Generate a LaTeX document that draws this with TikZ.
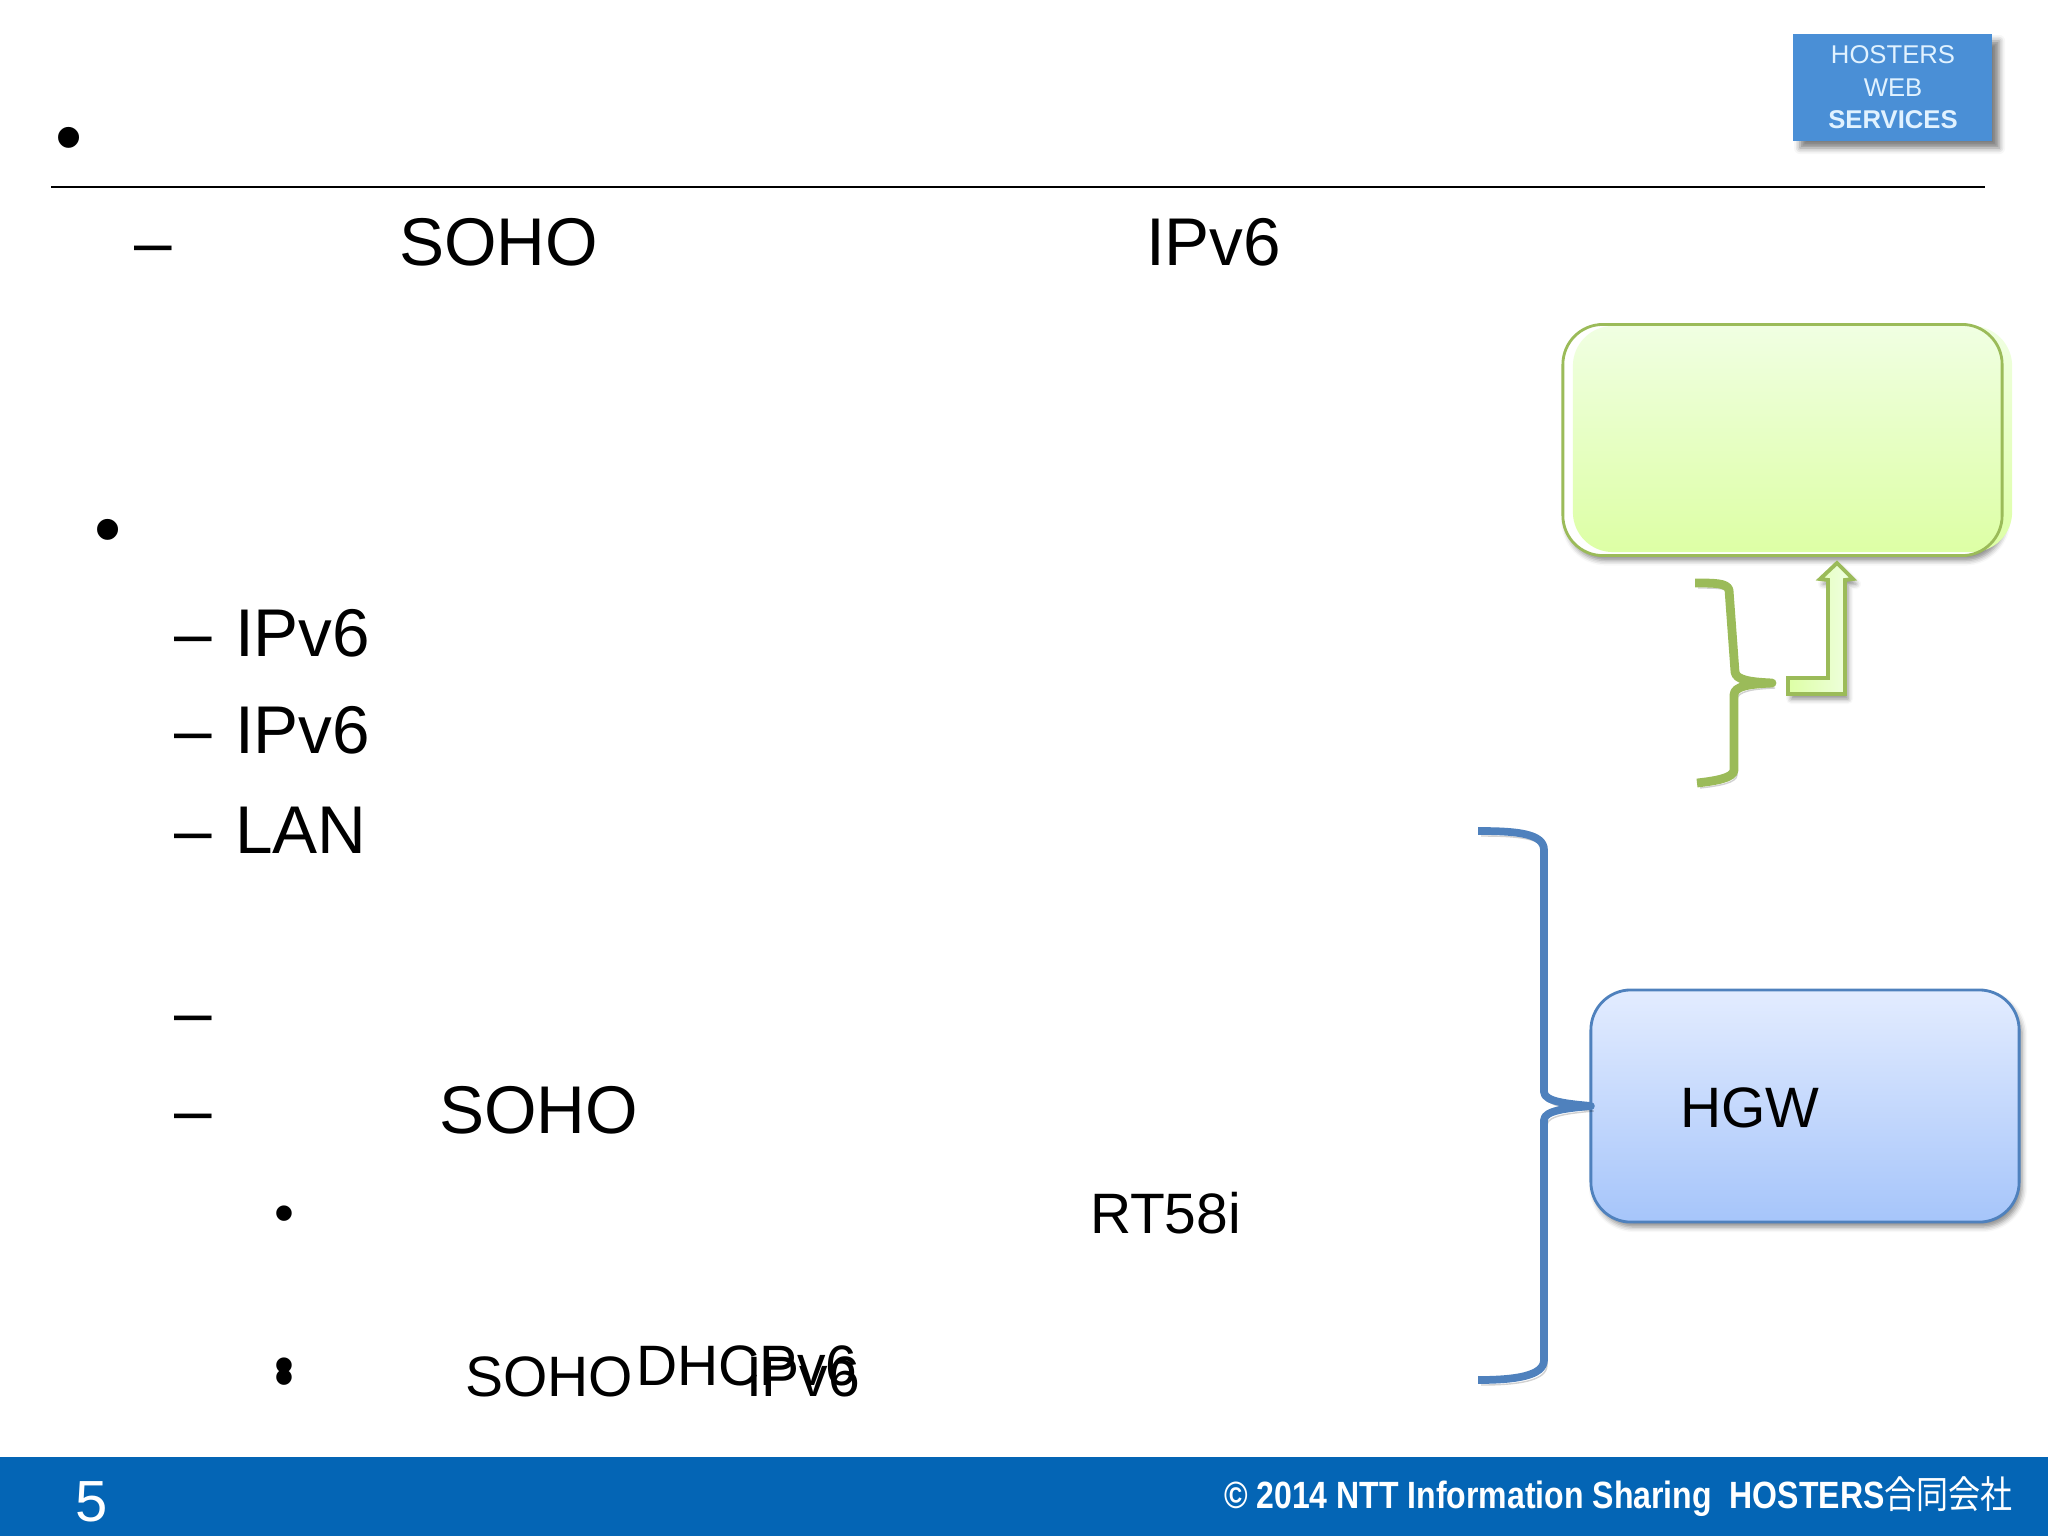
\documentclass[tikz,border=0pt]{standalone}
\usepackage{fontspec}
\setmainfont{Liberation Sans}
\newfontfamily\cjkfont{Noto Sans CJK JP}
\usetikzlibrary{shadows,shadows.blur}
\definecolor{footerblue}{RGB}{4,101,181}
\definecolor{logoblue}{RGB}{74,143,214}
\definecolor{logotext}{RGB}{225,242,255}
\definecolor{greenline}{RGB}{155,187,89}
\definecolor{greenlight}{RGB}{240,255,226}
\definecolor{greendark}{RGB}{221,255,165}
\definecolor{blueline}{RGB}{79,129,189}
\definecolor{bluelight}{RGB}{227,236,255}
\definecolor{bluedark}{RGB}{166,197,250}
\tikzstyle{every node}=[anchor=base west, inner sep=0pt, outer sep=0pt]
\tikzstyle{body}=[font=\fontsize{19.2}{19.2}\selectfont]
\tikzstyle{sub}=[font=\fontsize{16.2}{16.2}\selectfont]
\tikzstyle{bigdot}=[font=\fontsize{22}{22}\selectfont]
\tikzstyle{logotxt}=[anchor=base, text=logotext, font=\fontsize{7.3}{7.3}\selectfont]
\tikzstyle{softshadow}=[blur shadow={shadow xshift=0.03cm, shadow yshift=-0.05cm, shadow blur radius=0.05cm, shadow opacity=45}]
\tikzstyle{roundbox}=[anchor=center, rounded corners=0.4cm, line width=0.8pt]
\tikzstyle{brace}=[line join=round, preaction={draw, black, opacity=0.18, transform canvas={xshift=0.03cm, yshift=-0.05cm}}]
\begin{document}
\begin{tikzpicture}[x=0.01cm, y=-0.01cm]
\useasboundingbox (0,0) rectangle (2048,1536);
% footer
\fill[footerblue] (0,1457) rectangle (2048,1536);
\node[text=white, font=\fontsize{16.5}{16.5}\selectfont] (pagenum) at (75,1521) {5};
\node[text=white, font=\fontsize{10.8}{10.8}\bfseries\selectfont, xscale=0.843, transform shape] (copyright) at (1224,1508) {© 2014 NTT Information Sharing\ \ HOSTERS{\cjkfont\mdseries 合同会社}};
% logo
\node[anchor=north west, fill=logoblue, minimum width=1.99cm, minimum height=1.07cm, blur shadow={shadow xshift=0.07cm, shadow yshift=-0.07cm, shadow blur radius=0.06cm, shadow opacity=50}] (logo) at (1793,34) {};
\node[logotxt] (logoa) at (1893,63) {HOSTERS};
\node[logotxt] (logob) at (1893,96) {WEB};
\node[logotxt, font=\fontsize{7.3}{7.3}\bfseries\selectfont] (logoc) at (1893,128) {SERVICES};
% title rule
\node[bigdot] (dota) at (55,163) {•};
\coordinate (rulea) at (51,187);
\coordinate (ruleb) at (1985,187);
\draw[line width=0.7pt] (rulea) -- (ruleb);
% text
\node[body] (dasha) at (134,265) {–};
\node[body] (sohoa) at (399,265) {SOHO};
\node[body] (ipva) at (1146,265) {IPv6};
\node[bigdot] (dotb) at (94,555) {•};
\node[body] (dashb) at (174,656) {–};
\node[body] (ipvb) at (235,656) {IPv6};
\node[body] (dashc) at (174,753) {–};
\node[body] (ipvc) at (235,753) {IPv6};
\node[body] (dashd) at (174,853) {–};
\node[body] (lan) at (235,853) {LAN};
\node[body] (dashe) at (174,1035) {–};
\node[body] (dashf) at (174,1133) {–};
\node[body] (sohob) at (439,1133) {SOHO};
\node[sub] (dotc) at (274,1232) {•};
\node[sub] (rt) at (1090,1233) {RT58i};
\node[sub] (dotd) at (274,1384) {•};
\node[sub] (dote) at (274,1396) {•};
\node[sub] (sohoc) at (465,1396) {SOHO};
\node[sub] (dhcp) at (636,1385) {DHCPv6};
\node[sub] (ipvd) at (746,1396) {IPv6};
% boxes
\node[roundbox, fill=white, softshadow, minimum width=4.39cm, minimum height=2.31cm] (green) at (1782.5,440) {};
\node[roundbox, top color=greenlight, bottom color=greendark, minimum width=4.39cm, minimum height=2.26cm] (greenfill) at (1792.5,439) {};
\draw[line width=0.8pt, rounded corners=0.4cm, greenline] (green.south west) rectangle (green.north east);
\node[roundbox, draw=blueline, top color=bluelight, bottom color=bluedark, softshadow, minimum width=4.28cm, minimum height=2.32cm] (blue) at (1805,1106) {};
\node[sub] (hgw) at (1680,1127) {HGW};
% green brace
\coordinate (gtop) at (1695,583);
\coordinate (gbot) at (1697,783);
\coordinate (gtip) at (1772,683);
\draw[brace, line width=2.5pt, greenline] (gtop) .. controls (1715,583) and (1727,583) .. (1729,590) -- (1735,672) .. controls (1736,680) and (1750,682) .. (gtip)
  .. controls (1750,684) and (1734,686) .. (1734,695) -- (1734,770) .. controls (1734,778) and (1715,781) .. (gbot);
% bent arrow
\draw[line width=1.1pt, greenline, left color=greendark, right color=greenlight, softshadow] (1788,678) -- (1828,678) -- (1828,580) -- (1820,579) -- (1837,563) -- (1853,579) -- (1845,580) -- (1845,694) -- (1788,694) -- cycle;
% blue brace
\coordinate (btop) at (1478,831);
\coordinate (bbot) at (1478,1380);
\draw[brace, line width=2.2pt, blueline] (btop) .. controls (1515,831) and (1544,833) .. (1544,850) -- (1544,1092) .. controls (1544,1102) and (1570,1104) .. (blue.west)
  .. controls (1570,1108) and (1544,1110) .. (1544,1120) -- (1544,1360) .. controls (1544,1376) and (1515,1380) .. (bbot);
\end{tikzpicture}
\end{document}
